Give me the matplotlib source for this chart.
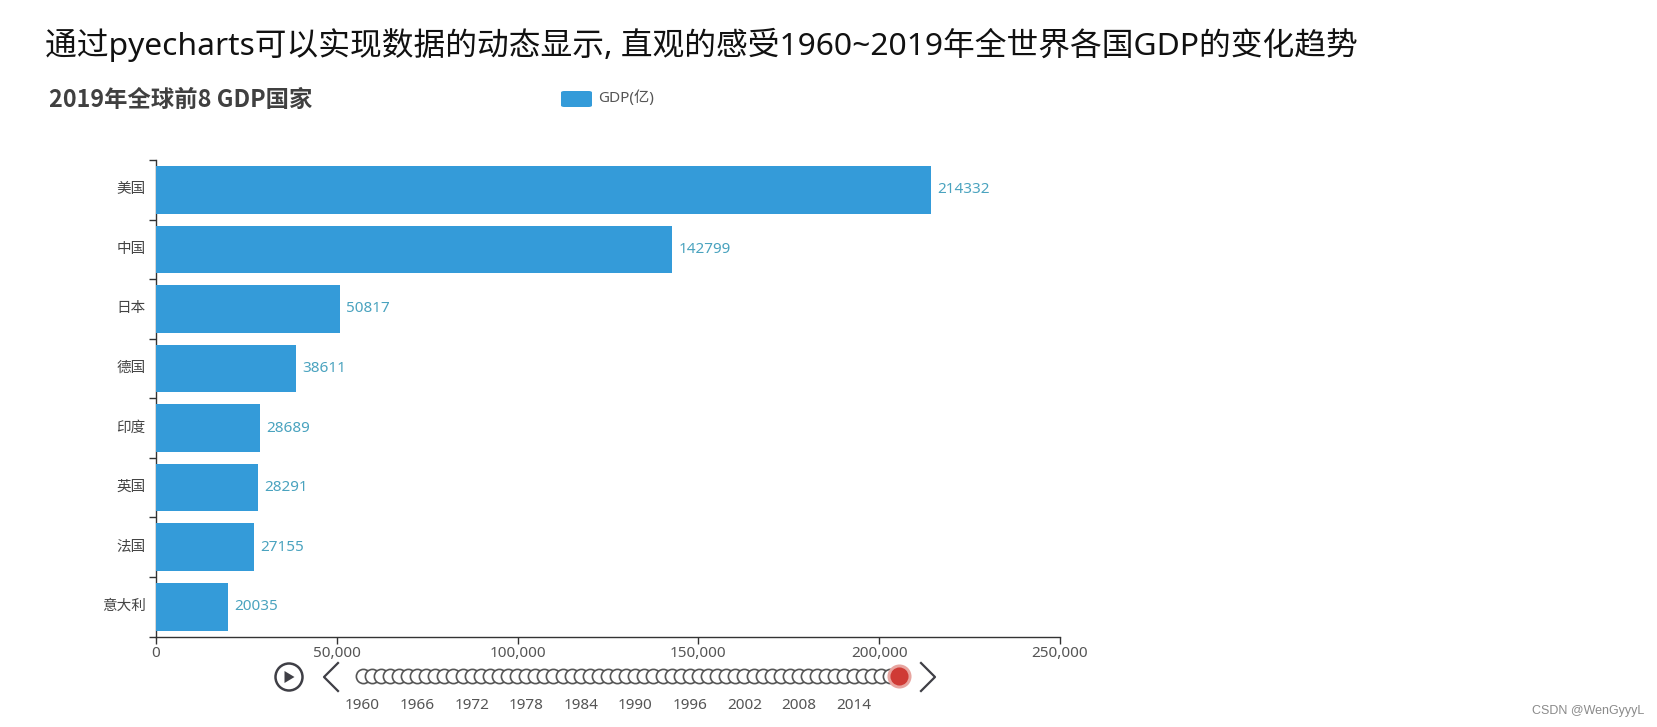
import numpy as np
import matplotlib
matplotlib.use("Agg")
import matplotlib.pyplot as plt
from matplotlib.patches import Circle, FancyBboxPatch, Polygon
from matplotlib.lines import Line2D

plt.rcParams["font.family"] = ["Noto Sans", "Noto Sans CJK SC", "DejaVu Sans"]

countries = ["美国", "中国", "日本", "德国", "印度", "英国", "法国", "意大利"]
gdp = [214332, 142799, 50817, 38611, 28689, 28291, 27155, 20035]
x_ticks = [0, 50000, 100000, 150000, 200000, 250000]
years = list(range(1960, 2020))
year_labels = [1960, 1966, 1972, 1978, 1984, 1990, 1996, 2002, 2008, 2014]

W, H = 1658, 727
BLUE = "#349bd9"


def box(x0, y_top, x1, y_bottom):
    return [x0 / W, 1 - y_bottom / H, (x1 - x0) / W, (y_bottom - y_top) / H]


fig = plt.figure(figsize=(W / 100, H / 100), dpi=100, facecolor="white")

fig.text(45 / W, 1 - 45 / H, "通过pyecharts可以实现数据的动态显示, 直观的感受1960~2019年全世界各国GDP的变化趋势",
         fontsize=22.85, color="#111111", va="center", ha="left")
fig.text(49 / W, 1 - 100 / H, "2019年全球前8 GDP国家", fontsize=16.8, fontweight="bold",
         color="#404040", va="center", ha="left", family=["Noto Sans CJK SC", "DejaVu Sans"])

# legend
fig.add_artist(FancyBboxPatch((561 / W, 1 - 107 / H), 31 / W, 16 / H,
                              boxstyle="round,pad=0,rounding_size=0.002",
                              transform=fig.transFigure, fc=BLUE, ec="none"))
fig.text(598 / W, 1 - 98 / H, "GDP(亿)", fontsize=11, color="#555555", va="center", ha="left")

# main bars
ax = fig.add_axes(box(156, 160, 1060, 636.5))
y = np.arange(len(countries))
ax.barh(y, gdp, height=0.8, color=BLUE, zorder=3)
ax.set_xlim(0, 250000)
ax.set_ylim(len(countries) - 0.5, -0.5)
ax.set_xticks(x_ticks)
ax.set_xticklabels([f"{v:,}" for v in x_ticks])
ax.set_yticks(np.arange(len(countries) + 1) - 0.5)
ax.set_yticklabels([])
ax.tick_params(axis="x", length=5, width=1, color="#333333", labelcolor="#555555", labelsize=11, pad=2)
ax.tick_params(axis="y", length=5, width=1, color="#333333")
for i, name in enumerate(countries):
    ax.annotate(name, (0, i), xytext=(-7.5, 0), textcoords="offset points", ha="right", va="center",
                fontsize=10.5, color="#444444")
for i, v in enumerate(gdp):
    ax.annotate(str(v), (v, i), xytext=(4.5, 0), textcoords="offset points", ha="left", va="center",
                fontsize=11, color="#4aa3bf")
for side in ["top", "right"]:
    ax.spines[side].set_visible(False)
for side in ["left", "bottom"]:
    ax.spines[side].set_color("#333333")
    ax.spines[side].set_linewidth(1)

# timeline
tl = fig.add_axes(box(362.5, 658, 899, 714))
tl.set_xlim(years[0], years[-1])
tl.set_ylim(-1, 1)
tl.axis("off")
tl.patch.set_alpha(0)
past = years[:-1]
tl.scatter(past, [0.35] * len(past), s=105, facecolor="white", edgecolor="#555555", linewidth=1.2,
           clip_on=False, zorder=2)
tl.scatter(years[-1], 0.35, s=300, color="#e8a5a0", linewidth=0, clip_on=False, zorder=3)
tl.scatter(years[-1], 0.35, s=170, color="#cf3a35", linewidth=0, clip_on=False, zorder=4)
for yr in year_labels:
    tl.text(yr, -0.68, str(yr), ha="center", va="center", fontsize=11, color="#555555")

# play button and arrows
ctrl = fig.add_axes([0, 0, 1, 1], facecolor="none")
ctrl.set_xlim(0, W)
ctrl.set_ylim(H, 0)
ctrl.axis("off")
ctrl.add_patch(Circle((289, 677), 13.5, fc="white", ec="#3f3f46", lw=1.8))
ctrl.add_patch(Polygon([[284.5, 671], [284.5, 683], [294.5, 677]], fc="#3f3f46", ec="none"))
ctrl.add_line(Line2D([338, 324, 338], [663, 677, 691], color="#3f3f46", lw=1.6))
ctrl.add_line(Line2D([921, 935, 921], [663, 677, 691], color="#3f3f46", lw=1.6))

fig.text(1644 / W, 1 - 711 / H, "CSDN @WenGyyyL", fontsize=9, color="#8a8a8a", va="center", ha="right",
         family=["Liberation Sans", "DejaVu Sans"])

fig.savefig("out.png", dpi=100)
